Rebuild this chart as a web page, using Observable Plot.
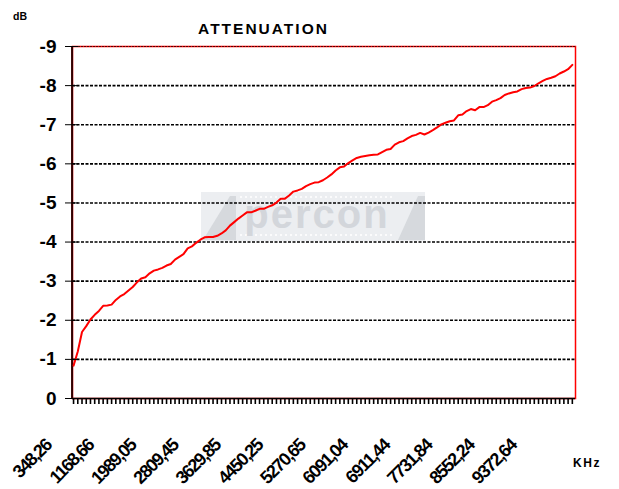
<!DOCTYPE html>
<html>
<head>
<meta charset="utf-8">
<script src="https://cdn.jsdelivr.net/npm/d3@7"></script>
<script src="https://cdn.jsdelivr.net/npm/@observablehq/plot@0.6"></script>
<style>
  html, body { margin: 0; padding: 0; background: #fff; }
  #chart svg { display: block; }
  #chart g[aria-label="text"] text { letter-spacing: -1.5px; }
</style>
</head>
<body>
<div id="chart"></div>
<script>
// Attenuation in dB, one value per frequency step
const attenuation = [
  -0.84, -1.20, -1.70, -1.85, -2.02, -2.14, -2.24, -2.37, -2.38, -2.40,
  -2.52, -2.61, -2.67, -2.76, -2.85, -2.97, -3.07, -3.10, -3.20, -3.27,
  -3.30, -3.34, -3.40, -3.44, -3.55, -3.62, -3.69, -3.84, -3.89, -3.98,
  -4.06, -4.12, -4.13, -4.13, -4.16, -4.22, -4.30, -4.42, -4.51, -4.60,
  -4.68, -4.76, -4.76, -4.80, -4.85, -4.85, -4.90, -4.94, -5.01, -5.11,
  -5.11, -5.19, -5.29, -5.32, -5.36, -5.43, -5.48, -5.52, -5.53, -5.58,
  -5.65, -5.73, -5.83, -5.91, -5.93, -6.02, -6.09, -6.15, -6.18, -6.20,
  -6.22, -6.23, -6.24, -6.30, -6.36, -6.38, -6.49, -6.55, -6.58, -6.65,
  -6.71, -6.74, -6.79, -6.75, -6.80, -6.86, -6.93, -7.01, -7.05, -7.09,
  -7.11, -7.24, -7.26, -7.35, -7.40, -7.37, -7.45, -7.45, -7.50, -7.59,
  -7.63, -7.68, -7.76, -7.80, -7.83, -7.85, -7.91, -7.94, -7.95, -7.99,
  -8.06, -8.12, -8.17, -8.20, -8.24, -8.31, -8.36, -8.42, -8.53
];
// Frequency labels (KHz) shown on every 10th step
const freqLabels = ["348,26", "1168,66", "1989,05", "2809,45", "3629,85", "4450,25",
                    "5270,65", "6091,04", "6911,44", "7731,84", "8552,24", "9372,64"];
const labelStep = 10;
const yTicks = [0, -1, -2, -3, -4, -5, -6, -7, -8, -9];
const gridLines = [-1, -2, -3, -4, -5, -6, -7, -8];

const data = attenuation.map((v, i) => ({i, v}));
const steps = data.map(d => d.i);
const labelData = freqLabels.map((t, k) => ({i: k * labelStep, label: t, y: 0}));

const chart = Plot.plot({
  width: 619,
  height: 489,
  marginTop: 46,
  marginBottom: 91,
  marginLeft: 72,
  marginRight: 44,
  style: {fontFamily: "'Liberation Sans', Arial, sans-serif", background: "#fff", color: "#000"},
  x: {type: "point", domain: steps, padding: 0.5, align: 0.25, round: false, label: null},
  y: {domain: [0, -9], label: null},
  marks: [
    Plot.frame({stroke: "#ff0000", strokeWidth: 1.5}),
    Plot.ruleY(gridLines, {stroke: "#000", strokeWidth: 1.6, strokeDasharray: "3,1.5"}),
    Plot.ruleY([-9], {stroke: "#500", strokeWidth: 1, strokeDasharray: "2,1"}),
    Plot.ruleY([0], {stroke: "#000", strokeWidth: 1.5}),
    Plot.ruleX([data[0]], {x: "i", dx: -1.5, stroke: "#300", strokeWidth: 2}),
    Plot.line(data, {x: "i", y: "v", stroke: "#ff0000", strokeWidth: 2}),
    Plot.axisY({ticks: yTicks, tickSize: 7, tickPadding: 9, fontSize: 19, fontWeight: "bold",
                tickFormat: d => String(d), label: null}),
    Plot.axisY({ticks: yTicks, tickSize: -6, tickFormat: () => "", label: null}),
    Plot.axisX({ticks: steps, tickSize: 6, strokeWidth: 1.6, tickFormat: () => "", label: null}),
    Plot.text(labelData, {x: "i", y: "y", text: "label", rotate: -45, textAnchor: "end",
                          lineAnchor: "bottom", dx: -21, dy: 48, fontSize: 18, fontWeight: "bold",
                          fill: "#000"})
  ]
});

document.getElementById("chart").appendChild(chart);

// Decorations: watermark logo, title and unit labels
const svg = d3.select(chart);
const wm = svg.insert("g", "g").attr("aria-label", "watermark");
wm.append("rect").attr("x", 201).attr("y", 192).attr("width", 224).attr("height", 49).attr("fill", "#eceef1");
wm.append("polygon").attr("points", "203,240 230,196 236,196 236,240").attr("fill", "#d6d9dd");
wm.append("polygon").attr("points", "398,240 418,196 425,196 425,240").attr("fill", "#d6d9dd");
wm.append("line").attr("x1", 240).attr("x2", 395).attr("y1", 197).attr("y2", 197)
  .attr("stroke", "#fff").attr("stroke-width", 1.5).attr("stroke-dasharray", "2,3");
wm.append("line").attr("x1", 240).attr("x2", 395).attr("y1", 235).attr("y2", 235)
  .attr("stroke", "#fff").attr("stroke-width", 1.5).attr("stroke-dasharray", "2,3");
wm.append("text").attr("x", 317).attr("y", 228).attr("text-anchor", "middle")
  .attr("font-family", "'Liberation Sans', Arial, sans-serif").attr("font-weight", "bold")
  .attr("font-size", 40).attr("letter-spacing", 2).attr("fill", "#d3d6db").text("percon");

svg.append("text").attr("x", 263.5).attr("y", 34).attr("text-anchor", "middle")
  .attr("font-family", "'Liberation Sans', Arial, sans-serif").attr("font-weight", "bold")
  .attr("font-size", 15.5).attr("letter-spacing", 2).attr("fill", "#000").text("ATTENUATION");
svg.append("text").attr("x", 20).attr("y", 20)
  .attr("font-family", "'Liberation Sans', Arial, sans-serif").attr("font-weight", "bold")
  .attr("font-size", 10.5).attr("fill", "#000").text("dB");
svg.append("text").attr("x", 587).attr("y", 467)
  .attr("font-family", "'Liberation Sans', Arial, sans-serif").attr("font-weight", "bold")
  .attr("font-size", 12).attr("letter-spacing", 1.5).attr("fill", "#000").text("KHz");
</script>
</body>
</html>
